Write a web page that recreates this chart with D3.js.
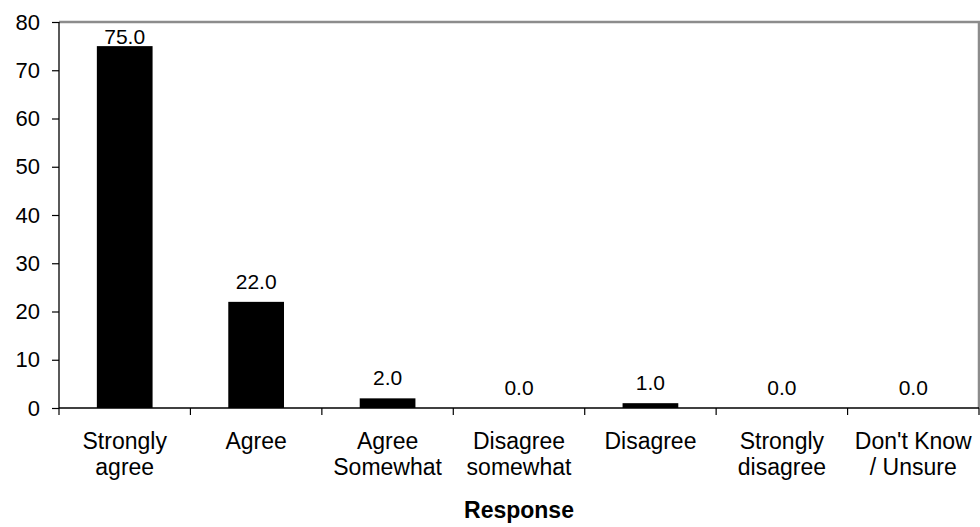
<!DOCTYPE html>
<html>
<head>
<meta charset="utf-8">
<script src="https://cdn.jsdelivr.net/npm/d3@7"></script>
<style>
  html, body { margin: 0; padding: 0; background: #fff; }
  svg { display: block; font-family: "Liberation Sans", Arial, Helvetica, sans-serif; }
</style>
</head>
<body>
<svg id="chart" width="980" height="527"></svg>
<script>
// Response categories (each label split over lines) and their percentages
const categories = [
  ["Strongly", "agree"],
  ["Agree"],
  ["Agree", "Somewhat"],
  ["Disagree", "somewhat"],
  ["Disagree"],
  ["Strongly", "disagree"],
  ["Don't Know", "/ Unsure"]
];
const values = [75.0, 22.0, 2.0, 0.0, 1.0, 0.0, 0.0];
const yTicks = [0, 10, 20, 30, 40, 50, 60, 70, 80];
const xTitle = "Response";

const svg = d3.select("#chart");
const margin = { top: 22, right: 1, bottom: 119, left: 59 };
const W = 980, H = 527;
const iw = W - margin.left - margin.right;
const ih = H - margin.top - margin.bottom;

const keys = categories.map((c, i) => i);
const x = d3.scaleBand().domain(keys).range([0, iw]).paddingInner(0.576).paddingOuter(0.288);
const xb = d3.scaleBand().domain(keys).range([0, iw]);
const y = d3.scaleLinear().domain([0, 80]).range([ih, 0]);

const g = svg.append("g").attr("transform", `translate(${margin.left},${margin.top})`);

// top and right frame of the plot area
g.append("path")
  .attr("d", `M0,0H${iw}V${ih}`)
  .attr("fill", "none")
  .attr("stroke", "#8c8c8c")
  .attr("stroke-width", 2.5);

// bars
g.selectAll("rect.bar")
  .data(values)
  .join("rect")
  .attr("class", "bar")
  .attr("x", (d, i) => x(i))
  .attr("width", x.bandwidth())
  .attr("y", d => y(d))
  .attr("height", d => ih - y(d))
  .attr("fill", "#000");

// value labels above bars, kept inside the plot area
g.selectAll("text.val")
  .data(values)
  .join("text")
  .attr("class", "val")
  .attr("x", (d, i) => x(i) + x.bandwidth() / 2)
  .attr("y", d => Math.max(y(d) - 13, y(80) + 21.5))
  .attr("text-anchor", "middle")
  .attr("font-size", 21)
  .attr("fill", "#000")
  .text(d => d.toFixed(1));

// y axis
const yAxis = g.append("g")
  .call(d3.axisLeft(y).tickValues(yTicks).tickSize(7).tickPadding(12).tickFormat(d3.format("d")));
yAxis.select(".domain").attr("d", `M0,0V${ih}`).attr("stroke", "#000").attr("stroke-width", 1.3);
yAxis.selectAll(".tick line").attr("stroke", "#000").attr("stroke-width", 1.2);
yAxis.selectAll(".tick text")
  .attr("font-size", 22)
  .attr("font-family", "Liberation Sans, Arial, sans-serif")
  .attr("fill", "#000");

// x axis: ticks on category boundaries
const boundaries = keys.map(k => xb(k)).concat([iw]);
const xAxis = g.append("g").attr("transform", `translate(0,${ih})`);
xAxis.append("line")
  .attr("x1", 0).attr("x2", iw)
  .attr("stroke", "#000").attr("stroke-width", 1.5);
xAxis.selectAll("line.tk")
  .data(boundaries)
  .join("line")
  .attr("class", "tk")
  .attr("x1", d => d).attr("x2", d => d)
  .attr("y1", 0).attr("y2", 7)
  .attr("stroke", "#000").attr("stroke-width", 1.2);

// category labels
const lab = xAxis.selectAll("text.cat")
  .data(categories)
  .join("text")
  .attr("class", "cat")
  .attr("text-anchor", "middle")
  .attr("font-size", 23)
  .attr("fill", "#000")
  .attr("transform", (d, i) => `translate(${xb(i) + xb.bandwidth() / 2},41)`);
lab.selectAll("tspan")
  .data(d => d)
  .join("tspan")
  .attr("x", 0)
  .attr("y", (d, j) => j * 25.5)
  .text(d => d);

// axis title
svg.append("text")
  .attr("x", margin.left + iw / 2)
  .attr("y", 518)
  .attr("text-anchor", "middle")
  .attr("font-size", 23)
  .attr("font-weight", "bold")
  .attr("fill", "#000")
  .text(xTitle);
</script>
</body>
</html>
